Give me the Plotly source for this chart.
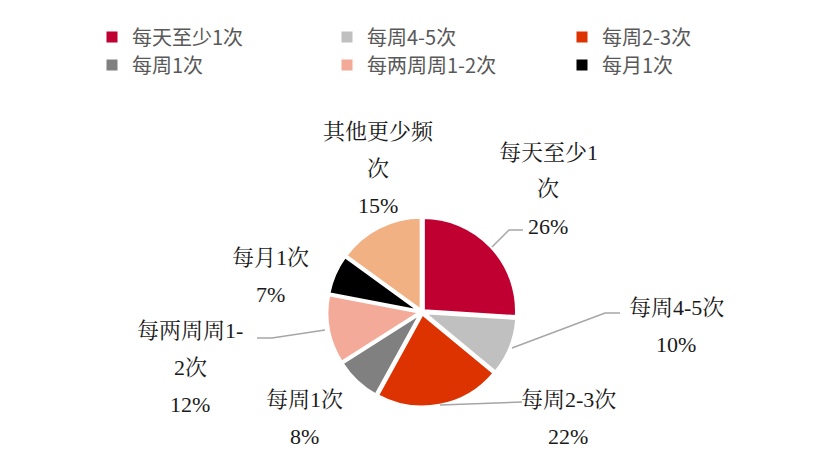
import plotly.graph_objects as go

categories = ["每天至少1次", "每周4-5次", "每周2-3次", "每周1次", "每两周周1-2次", "每月1次", "其他更少频次"]
label_lines = [["每天至少1", "次"], ["每周4-5次"], ["每周2-3次"], ["每周1次"],
               ["每两周周1-", "2次"], ["每月1次"], ["其他更少频", "次"]]
values = [26, 10, 22, 8, 12, 7, 15]
colors = ["#C00030", "#C0C0C0", "#DC3300", "#808080", "#F4AA98", "#000000", "#F2B183"]
legend_items = categories[:6]

W, H = 830, 476
def px(x, y):
    return x / W, 1 - y / H

# label anchor (center x, first-line y) in pixels, and line spacing
label_pos = [(548, 152), (676, 307), (568, 399), (304, 399), (190, 330), (270, 257), (378, 131)]
line_gap = 37
# leader lines (pixel paths)
leaders = [
    [(492, 247), (509, 230), (523, 230)],
    [(512, 348), (605, 313), (620, 313)],
    [(440, 405), (522, 402)],
    [(325, 330), (272, 338), (257, 338)],
]

fig = go.Figure()
x0, y1 = px(327, 217)
x1, y0 = px(517, 407)
fig.add_trace(go.Pie(
    labels=categories, values=values,
    sort=False, direction="clockwise", rotation=0,
    marker=dict(colors=colors, line=dict(color="white", width=3)),
    pull=0.02,
    textinfo="none", hoverinfo="label+percent",
    showlegend=False,
    domain=dict(x=[x0, x1], y=[y0, y1]),
))
for i, (name, col) in enumerate(zip(legend_items, colors[:6])):
    fig.add_trace(go.Scatter(x=[None], y=[None], mode="markers", name=name,
                             legend="legend" if i < 3 else "legend2",
                             marker=dict(symbol="square", size=11, color=col)))

total = sum(values)
serif = "Liberation Serif, Noto Serif CJK SC, Noto Sans CJK SC"
for lines, v, (cx, cy) in zip(label_lines, values, label_pos):
    all_lines = lines + [f"{round(v / total * 100)}%"]
    for i, t in enumerate(all_lines):
        ax, ay = px(cx, cy + i * line_gap)
        fig.add_annotation(x=ax, y=ay, xref="paper", yref="paper", text=t,
                           showarrow=False, xanchor="center", yanchor="middle",
                           font=dict(family=serif, size=22, color="#1a1a1a"))

for path in leaders:
    d = ""
    for j, (lx, ly) in enumerate(path):
        qx, qy = px(lx, ly)
        d += ("M" if j == 0 else " L") + f" {qx} {qy}"
    fig.add_shape(type="path", path=d, xref="paper", yref="paper",
                  line=dict(color="#A6A6A6", width=1.5))

leg_common = dict(orientation="h", xanchor="left", yanchor="middle",
                  entrywidth=190, entrywidthmode="pixels",
                  font=dict(family="Noto Sans CJK SC", size=20, color="#595959"),
                  bgcolor="rgba(0,0,0,0)")
lx0, ly0 = px(92, 37)
_, ly1 = px(92, 65)
fig.update_layout(
    width=W, height=H,
    margin=dict(l=0, r=0, t=0, b=0),
    paper_bgcolor="white", plot_bgcolor="white",
    xaxis=dict(visible=False), yaxis=dict(visible=False),
    legend=dict(x=lx0, y=ly0, **leg_common),
    legend2=dict(x=lx0, y=ly1, **leg_common),
)
fig.write_html("out.html", config={"displayModeBar": False},
               post_script="document.body.style.margin='0';")
